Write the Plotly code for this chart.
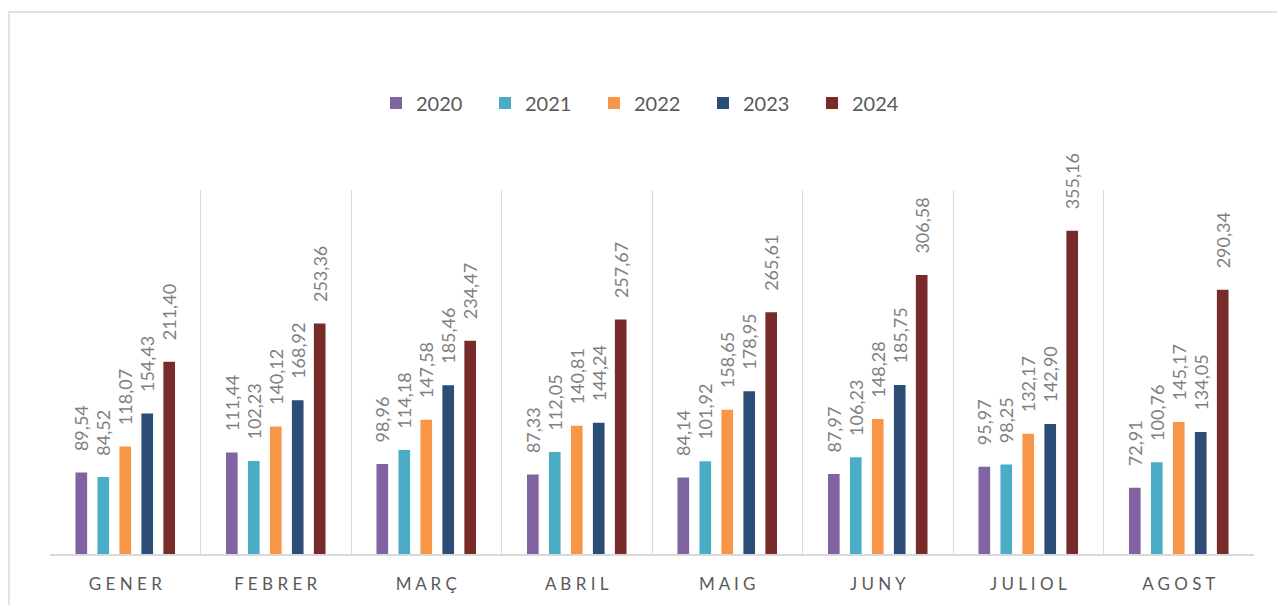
import plotly.graph_objects as go

# -----------------------------
# Daten
# -----------------------------
months = ["GENER", "FEBRER", "MARÇ", "ABRIL", "MAIG", "JUNY", "JULIOL", "AGOST"]
years = ["2020", "2021", "2022", "2023", "2024"]

v2020 = [89.54, 111.44, 98.96, 87.33, 84.14, 87.97, 95.97, 72.91]
v2021 = [84.52, 102.23, 114.18, 112.05, 101.92, 106.23, 98.25, 100.76]
v2022 = [118.07, 140.12, 147.58, 140.81, 158.65, 148.28, 132.17, 145.17]
v2023 = [154.43, 168.92, 185.46, 144.24, 178.95, 185.75, 142.90, 134.05]
v2024 = [211.40, 253.36, 234.47, 257.67, 265.61, 306.58, 355.16, 290.34]

series = [v2020, v2021, v2022, v2023, v2024]
colors = ["#8064A2", "#4BACC6", "#F79646", "#2C4D75", "#772C2A"]

FONT = "Lato"

# Seite hat 8px Rand -> Plotbereich im Bild: x 50..1254, y 190..554
PLOT_L, PLOT_T, PLOT_W, PLOT_H = 42, 182, 1204, 364

# -----------------------------
# Figur
# -----------------------------
fig = go.Figure()
for year, vals, col in zip(years, series, colors):
    fig.add_trace(go.Bar(
        name=year,
        x=months,
        y=vals,
        marker=dict(color=col, line=dict(width=0)),
        text=vals,
        texttemplate="\u00a0\u00a0\u00a0\u00a0%{y:.2f}",
        textposition="outside",
        textangle=-90,
        constraintext="none",
        cliponaxis=False,
        textfont=dict(family=FONT, size=18, color="#7f7f7f"),
    ))

fig.update_layout(
    width=1285,
    height=605,
    barmode="group",
    bargap=0.27,
    bargroupgap=0.47,
    separators=",.",
    plot_bgcolor="white",
    paper_bgcolor="white",
    margin=dict(l=PLOT_L, r=1285 - PLOT_L - PLOT_W, t=PLOT_T, b=605 - PLOT_T - PLOT_H),
    font=dict(family=FONT, color="#595959"),
    showlegend=True,
    legend=dict(
        orientation="h",
        x=(376 - 50) / PLOT_W,
        xanchor="left",
        y=(554 - 103) / PLOT_H,
        yanchor="middle",
        font=dict(family=FONT, size=20, color="#595959"),
        entrywidth=64,
        traceorder="normal",
    ),
    shapes=[dict(
        type="rect", xref="paper", yref="paper",
        x0=(9 - 50) / PLOT_W, x1=1.2,
        y0=-0.5, y1=(554 - 12) / PLOT_H,
        line=dict(color="#d9d9d9", width=1.5),
        fillcolor="rgba(0,0,0,0)",
        layer="below",
    )],
)

fig.update_xaxes(
    type="category",
    tickson="boundaries",
    showgrid=True,
    gridcolor="#d9d9d9",
    gridwidth=1.3,
    showline=True,
    linecolor="#d9d9d9",
    linewidth=1.5,
    ticks="",
    tickmode="array",
    tickvals=months,
    ticktext=[" ".join(m) for m in months],
    ticklabelstandoff=14,
    tickfont=dict(family=FONT, size=17, color="#595959"),
)
fig.update_yaxes(
    range=[0, 400],
    showgrid=False,
    zeroline=False,
    showticklabels=False,
    showline=False,
)

fig.write_html("out.html")
